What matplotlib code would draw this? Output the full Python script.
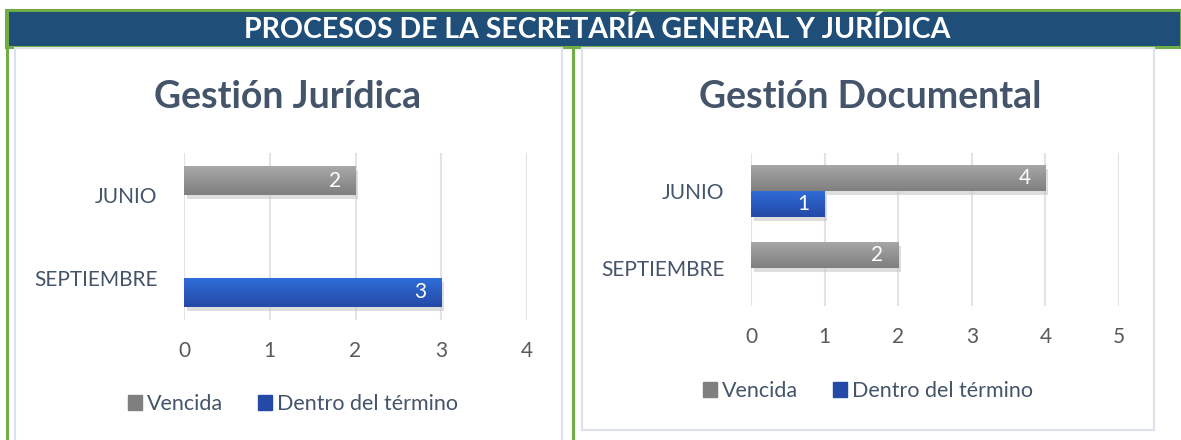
import numpy as np
import matplotlib
matplotlib.use('Agg')
import matplotlib.pyplot as plt
from matplotlib.patches import Rectangle
from matplotlib.lines import Line2D
import matplotlib.patheffects as pe

plt.rcParams['font.family'] = ['Lato', 'DejaVu Sans']

W, H = 1181, 440

header = 'PROCESOS DE LA SECRETARÍA GENERAL Y JURÍDICA'
months = ['JUNIO', 'SEPTIEMBRE']
series = ['Vencida', 'Dentro del término']

juridica_title = 'Gestión Jurídica'
juridica_vencida = [2, 0]
juridica_dentro = [0, 3]
juridica_ticks = [0, 1, 2, 3, 4]

documental_title = 'Gestión Documental'
documental_vencida = [4, 2]
documental_dentro = [1, 0]
documental_ticks = [0, 1, 2, 3, 4, 5]

gray_top, gray_bot = '#A8A8A8', '#7F7F7F'
blue_top, blue_bot = '#2F6DD8', '#2549A6'
text_col = '#44546A'
tick_col = '#595959'
green = '#70AD47'
navy = '#1F4E79'
panel_edge = '#DDE2EA'


def box(x0, y0, x1, y1):
    # pixel box (top-left origin) -> figure fraction rect
    return [x0 / W, 1 - y1 / H, (x1 - x0) / W, (y1 - y0) / H]


def gradient_fill(ax, bar, c_top, c_bot):
    b = bar.get_bbox()
    if b.width == 0:
        return
    ct = np.array(matplotlib.colors.to_rgb(c_top))
    cb = np.array(matplotlib.colors.to_rgb(c_bot))
    t = np.linspace(0, 1, 64)[:, None]
    img = (ct * (1 - t) + cb * t)[:, None, :]
    im = ax.imshow(img, extent=[b.x0, b.x1, b.y1, b.y0], aspect='auto',
                   zorder=3, interpolation='bilinear')
    im.set_clip_path(bar)


def draw_chart(rect, title, title_xy, vencida, dentro, ticks, xmax, legend_y, legend_x):
    ax = fig.add_axes(box(*rect))
    y = np.arange(len(months))
    h = 0.34
    shadow = [pe.SimplePatchShadow(offset=(2, -3), shadow_rgbFace='#C8C8C8', alpha=0.6), pe.Normal()]
    b1 = ax.barh(y - h / 2, vencida, height=h, color=gray_bot, zorder=2, path_effects=shadow)
    b2 = ax.barh(y + h / 2, dentro, height=h, color=blue_bot, zorder=2, path_effects=shadow)
    for bar in b1:
        gradient_fill(ax, bar, gray_top, gray_bot)
    for bar in b2:
        gradient_fill(ax, bar, blue_top, blue_bot)
    for bars, vals in ((b1, vencida), (b2, dentro)):
        for bar, v in zip(bars, vals):
            if v > 0:
                ax.annotate(str(v), (v, bar.get_y() + bar.get_height() / 2),
                            xytext=(-15, 0), textcoords='offset points',
                            ha='center', va='center', color='white',
                            fontsize=15, zorder=5)
    ax.set_xlim(0, xmax)
    ax.set_ylim(len(months) - 0.5, -0.5)
    ax.set_xticks(ticks)
    ax.set_yticks(y)
    ax.set_yticklabels(months)
    ax.grid(axis='x', color='#DFE3EA', lw=1.5, zorder=0)
    ax.set_axisbelow(True)
    for s in ax.spines.values():
        s.set_visible(False)
    ax.tick_params(length=0, labelsize=15, colors=tick_col, pad=15)
    ax.tick_params(axis='y', pad=19, colors=text_col)
    fig.text(title_xy[0] / W, 1 - title_xy[1] / H, title, ha='center', va='center',
             fontsize=27, fontweight='bold', color=text_col)
    handles = [Rectangle((0, 0), 1, 1, color=gray_bot), Rectangle((0, 0), 1, 1, color=blue_bot)]
    fig.legend(handles, series, loc='center', bbox_to_anchor=(legend_x / W, 1 - legend_y / H),
               ncol=2, frameon=False, fontsize=15.5, labelcolor=text_col,
               handlelength=0.65, handleheight=0.65, handletextpad=0.25, columnspacing=1.6)
    return ax


fig = plt.figure(figsize=(W / 100, H / 100), dpi=100)

# header band
fig.patches.append(Rectangle((6 / W, 1 - 47 / H), (W - 6) / W, 37 / H, transform=fig.transFigure,
                             facecolor=navy, edgecolor=green, lw=2.2))
fig.text(597 / W, 1 - 30 / H, header, ha='center', va='center', color='white',
         fontsize=20.5, fontweight='bold')

# panel borders
fig.patches.append(Rectangle((15 / W, 1 - 445 / H), 547 / W, 397 / H, transform=fig.transFigure,
                             facecolor='none', edgecolor=panel_edge, lw=1.5))
fig.patches.append(Rectangle((582 / W, 1 - 430 / H), 572 / W, 382 / H, transform=fig.transFigure,
                             facecolor='none', edgecolor=panel_edge, lw=1.5))

# green separators
fig.add_artist(Line2D([7 / W, 7 / W], [0, 1 - 10 / H], color=green, lw=2.2, transform=fig.transFigure))
fig.add_artist(Line2D([573 / W, 573 / W], [0, 1 - 47 / H], color=green, lw=2.2, transform=fig.transFigure))

draw_chart((184, 153, 527, 320), juridica_title, (288, 97), juridica_vencida, juridica_dentro,
           juridica_ticks, 4, 404, 293)
draw_chart((751, 153, 1119, 306), documental_title, (870, 97), documental_vencida, documental_dentro,
           documental_ticks, 5, 391, 868)

fig.savefig('out.png', dpi=100)
